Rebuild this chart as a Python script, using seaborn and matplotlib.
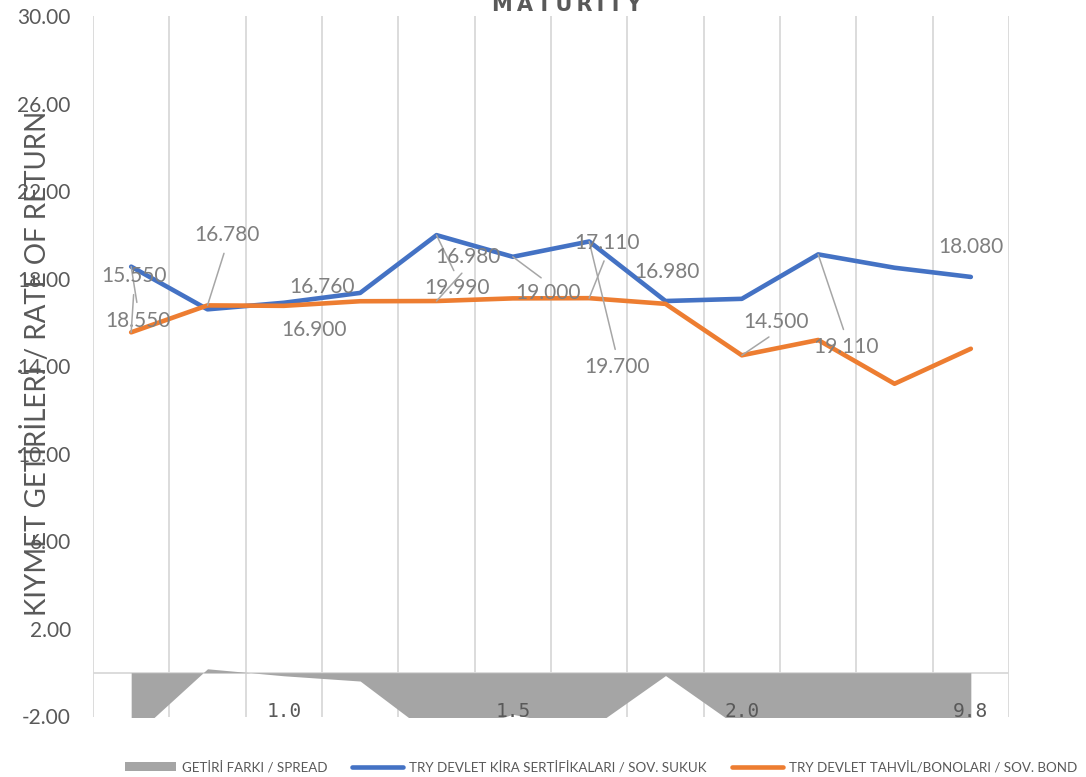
import numpy as np
import pandas as pd
import matplotlib
matplotlib.use("Agg")
import matplotlib.pyplot as plt
import seaborn as sns
from matplotlib.patches import Patch
from matplotlib.lines import Line2D

# ---------------- data ----------------
maturity_labels = ["", "", "1.0", "", "", "1.5", "", "", "2.0", "", "", "9.8"]
sukuk = [18.55, 16.60, 16.90, 17.35, 19.99, 19.00, 19.70, 16.98, 17.08, 19.11, 18.50, 18.08]
bond = [15.55, 16.78, 16.76, 16.97, 16.98, 17.10, 17.11, 16.85, 14.50, 15.20, 13.20, 14.80]
spread = [-3.00, 0.18, -0.14, -0.38, -3.01, -1.90, -2.59, -0.13, -2.58, -3.91, -5.30, -3.28]
y_ticks = [-2, 2, 6, 10, 14, 18, 22, 26, 30]

sukuk_label_idx = [0, 2, 4, 5, 6, 7, 9, 11]
sukuk_label_txt = ["18.550", "16.900", "19.990", "19.000", "19.700", "16.980", "19.110", "18.080"]
bond_label_idx = [0, 1, 2, 4, 6, 8]
bond_label_txt = ["15.550", "16.780", "16.760", "16.980", "17.110", "14.500"]

name_spread = "GETİRİ FARKI / SPREAD"
name_sukuk = "TRY DEVLET KİRA SERTİFİKALARI / SOV. SUKUK"
name_bond = "TRY DEVLET TAHVİL/BONOLARI / SOV. BOND"
title = "MATURITY"
ylabel = "KIYMET GETİRİLERİ / RATE OF RETURN"

# ---------------- layout (label offsets in pixels, leader flag) ----------------
sukuk_label_off = [(7, -52, True), (30, -25, False), (21, -51, True), (35, -34, True),
                   (28, -124, True), (1, 31, False), (28, -91, True), (0, 32, False)]
bond_label_off = [(3, 58, True), (19, 72, True), (38, 21, False), (31, 46, True),
                  (18, 57, True), (34, 35, True)]

C_BLUE = "#4472C4"
C_ORANGE = "#ED7D31"
C_GRAY = "#A5A5A5"
C_TEXT = "#595959"
C_LABEL = "#7F7F7F"
C_GRID = "#D9D9D9"

sns.set_style("white")
plt.rcParams["font.family"] = ["Lato", "DejaVu Sans"]

n = len(sukuk)
x = np.arange(n)
df = pd.DataFrame({"x": np.concatenate([x, x]),
                   "y": np.concatenate([sukuk, bond]),
                   "series": [name_sukuk] * n + [name_bond] * n})

fig = plt.figure(figsize=(10.86, 7.77), dpi=100)
ax = fig.add_axes([93 / 1086, 1 - 716.5 / 777, 916 / 1086, 700.5 / 777])

# gridlines (below the area)
for b in np.arange(-0.5, n, 1.0):
    ax.axvline(b, color=C_GRID, lw=1.3, zorder=0)
ax.axhline(0, color=C_GRID, lw=1.3, zorder=0.5)

# area (spread)
ax.fill_between(x, 0, spread, color=C_GRAY, lw=0, zorder=1)

sns.lineplot(data=df, x="x", y="y", hue="series",
             palette={name_sukuk: C_BLUE, name_bond: C_ORANGE},
             linewidth=3.3, ax=ax, legend=False, zorder=3,
             solid_capstyle="round", solid_joinstyle="round")

ax.set_xlim(-0.5, n - 0.5)
ax.set_ylim(-2, 30)
ax.set_yticks(y_ticks)
ax.set_yticklabels([f"{v:.2f}" for v in y_ticks])
ax.tick_params(axis="y", length=0, pad=16, labelsize=15, labelcolor=C_TEXT)

major_idx = [i for i, s in enumerate(maturity_labels) if s]
ax.set_xticks(major_idx)
ax.set_xticklabels([maturity_labels[i] for i in major_idx],
                   fontfamily="DejaVu Sans Mono", fontsize=14, color=C_TEXT)
ax.tick_params(axis="x", length=0, pad=-10.5)
ax.grid(False)
ax.set_axisbelow(False)
for s in ax.spines.values():
    s.set_visible(False)
ax.set_xlabel("")
ax.set_ylabel("")


def add_labels(vals, idxs, txts, offs):
    for i, t, (dx, dy, lead) in zip(idxs, txts, offs):
        kw = {}
        if lead:
            kw["arrowprops"] = dict(arrowstyle="-", color="#A6A6A6", lw=1.1,
                                    relpos=(0.5, 1.0) if dy < 0 else (0.5, 0.0),
                                    shrinkA=6, shrinkB=0, patchA=None)
        ax.annotate(t, xy=(i, vals[i]), xytext=(dx, dy), textcoords="offset pixels",
                    ha="center", va="center_baseline", fontsize=15, color=C_LABEL,
                    zorder=5, **kw)


add_labels(sukuk, sukuk_label_idx, sukuk_label_txt, sukuk_label_off)
add_labels(bond, bond_label_idx, bond_label_txt, bond_label_off)

fig.text(567 / 1086, 1 - 11 / 777, "\u2009".join(title), ha="center", va="baseline",
         fontsize=15, fontweight="bold", color=C_TEXT, family=["DejaVu Sans"])
fig.text(37 / 1086, 1 - 363 / 777, ylabel, rotation=90, ha="center", va="center",
         fontsize=20, color=C_TEXT)

handles = [Patch(facecolor=C_GRAY, edgecolor="none", label=name_spread),
           Line2D([0], [0], color=C_BLUE, lw=3.3, label=name_sukuk, solid_capstyle="round"),
           Line2D([0], [0], color=C_ORANGE, lw=3.3, label=name_bond, solid_capstyle="round")]
leg = fig.legend(handles=handles, loc="center", bbox_to_anchor=(601 / 1086, 1 - 767 / 777),
                 ncol=3, frameon=False, fontsize=9.6, handlelength=3.85, handletextpad=0.45,
                 columnspacing=1.85, labelcolor=C_TEXT)

fig.savefig("out.png", dpi=100)
